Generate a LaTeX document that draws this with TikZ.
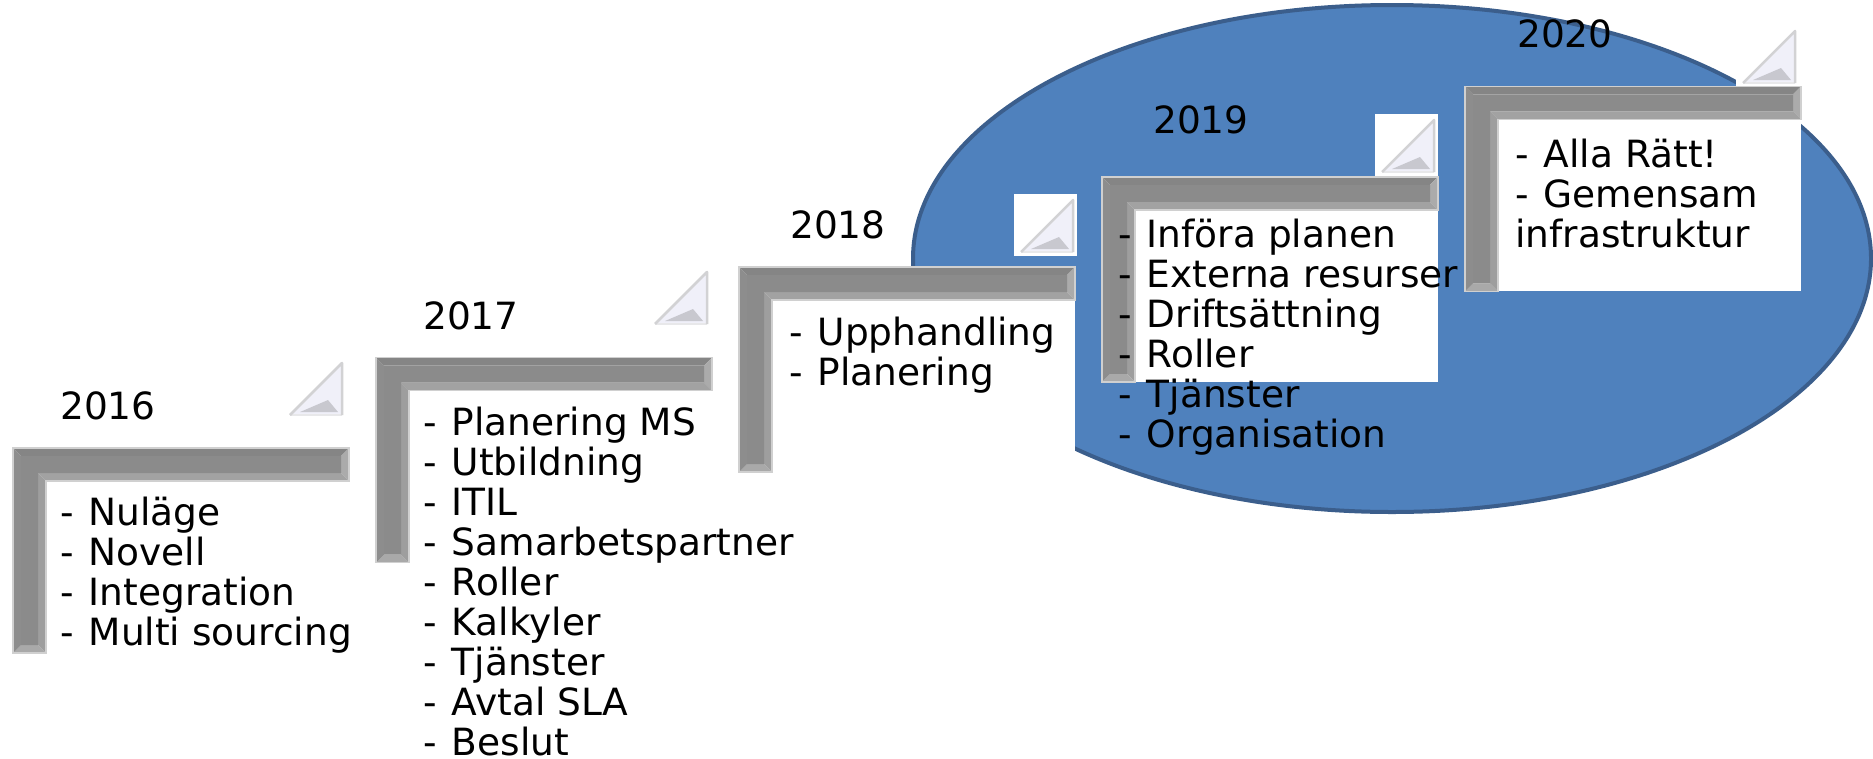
\documentclass[tikz,border=0pt]{standalone}
\usepackage{fontspec}
\setmainfont{DejaVu Sans}
\definecolor{ellfill}{HTML}{4F81BD}
\definecolor{elldraw}{HTML}{3B5E8C}
\definecolor{bartop}{HTML}{858585}
\definecolor{barface}{HTML}{8B8B8B}
\definecolor{barunder}{HTML}{A2A2A2}
\definecolor{barend}{HTML}{ABABAB}
\definecolor{barleft}{HTML}{8D8D8D}
\definecolor{barinner}{HTML}{9E9E9E}
\definecolor{barbot}{HTML}{A9A9A9}
\definecolor{baredge}{HTML}{D0D0D0}
\definecolor{icofill}{HTML}{F0F0F9}
\definecolor{icoedge}{HTML}{D2D2D4}
\definecolor{icobase}{HTML}{E8E8EA}
\definecolor{icogray}{HTML}{C8C8CF}
\newcommand\dd{-\hspace{0.4em}}
\begin{document}
\begin{tikzpicture}[x=1pt,y=-1pt,
  txt/.style={anchor=base west,inner sep=0pt,font=\fontsize{37.5}{40}\selectfont,text=black}]
\useasboundingbox (0,0) rectangle (1873,758);
\fill[white] (0,0) rectangle (1873,758);
% ellipse
\draw[fill=ellfill,draw=elldraw,line width=4pt] (1392,258.5) ellipse [x radius=479pt, y radius=253.5pt];
% white boxes
\foreach \k in {0,...,4}{
  \pgfmathsetmacro\xa{13+363*\k}
  \pgfmathsetmacro\ya{448-90.4*\k}
  \pgfmathsetmacro\xb{\xa+336}
  \pgfmathsetmacro\yb{\ya+205}
  \fill[white] (\xa,\ya) rectangle (\xb,\yb);
}
% icon squares with page-curl triangles
\foreach \sx/\sy in {283/357, 648/266, 1014/194, 1375/114, 1736/25}{
  \fill[white] (\sx,\sy) rectangle ({\sx+63},{\sy+62});
  \fill[icofill] ({\sx+59},{\sy+6})--({\sx+59},{\sy+58})--({\sx+7},{\sy+58})--cycle;
  \draw[icobase,line width=1.5pt] ({\sx+7},{\sy+58})--({\sx+59},{\sy+58});
  \draw[icoedge,line width=2.5pt,line join=round] ({\sx+7},{\sy+58})--({\sx+59},{\sy+6})--({\sx+59},{\sy+58});
  \fill[icogray] ({\sx+17},{\sy+55})--({\sx+45},{\sy+43})--({\sx+55},{\sy+55})--cycle;
}
% bevelled L bars
\foreach \k in {0,...,4}{
  \pgfmathsetmacro\xa{13+363*\k}
  \pgfmathsetmacro\ya{448-90.4*\k}
  \pgfmathsetmacro\xb{\xa+336}
  \pgfmathsetmacro\yb{\ya+205}
  \pgfmathsetmacro\xt{\xa+33}
  \pgfmathsetmacro\yt{\ya+33}
  \pgfmathsetmacro\xai{\xa+8}
  \pgfmathsetmacro\yai{\ya+8}
  \pgfmathsetmacro\xbi{\xb-8}
  \pgfmathsetmacro\ybi{\yb-8}
  \pgfmathsetmacro\xti{\xa+25}
  \pgfmathsetmacro\yti{\ya+25}
  \fill[bartop] (\xa,\ya)--(\xb,\ya)--(\xbi,\yai)--(\xai,\yai)--cycle;
  \fill[barend] (\xb,\ya)--(\xb,\yt)--(\xbi,\yti)--(\xbi,\yai)--cycle;
  \fill[barunder] (\xb,\yt)--(\xt,\yt)--(\xti,\yti)--(\xbi,\yti)--cycle;
  \fill[barinner] (\xt,\yt)--(\xt,\yb)--(\xti,\ybi)--(\xti,\yti)--cycle;
  \fill[barbot] (\xt,\yb)--(\xa,\yb)--(\xai,\ybi)--(\xti,\ybi)--cycle;
  \fill[barleft] (\xa,\yb)--(\xa,\ya)--(\xai,\yai)--(\xai,\ybi)--cycle;
  \fill[barface] (\xai,\yai)--(\xbi,\yai)--(\xbi,\yti)--(\xti,\yti)--(\xti,\ybi)--(\xai,\ybi)--cycle;
  \draw[baredge,line width=1.5pt] (\xa,\ya)--(\xb,\ya)--(\xb,\yt)--(\xt,\yt)--(\xt,\yb)--(\xa,\yb)--cycle;
}
% year labels
\node[txt] (y2016) at (60,419) {2016};
\node[txt] (y2017) at (423,329) {2017};
\node[txt] (y2018) at (790,238) {2018};
\node[txt] (y2019) at (1153,133) {2019};
\node[txt] (y2020) at (1517,47) {2020};
% lists
\foreach \itm [count=\i] in {Nuläge,Novell,Integration,Multi sourcing}
  \node[txt] (l16-\i) at (60,{485+40*\i}) {\dd\itm};
\foreach \itm [count=\i] in {Planering MS,Utbildning,ITIL,Samarbetspartner,Roller,Kalkyler,Tjänster,Avtal SLA,Beslut}
  \node[txt] (l17-\i) at (423,{395+40*\i}) {\dd\itm};
\foreach \itm [count=\i] in {Upphandling,Planering}
  \node[txt] (l18-\i) at (789,{305+40*\i}) {\dd\itm};
\foreach \itm [count=\i] in {Införa planen,Externa resurser,Driftsättning,Roller,Tjänster,Organisation}
  \node[txt] (l19-\i) at (1118,{207+40*\i}) {\dd\itm};
\node[txt] (l20-1) at (1515,167) {\dd Alla Rätt!};
\node[txt] (l20-2) at (1515,207) {\dd Gemensam};
\node[txt] (l20-3) at (1515,247) {infrastruktur};
\end{tikzpicture}
\end{document}
